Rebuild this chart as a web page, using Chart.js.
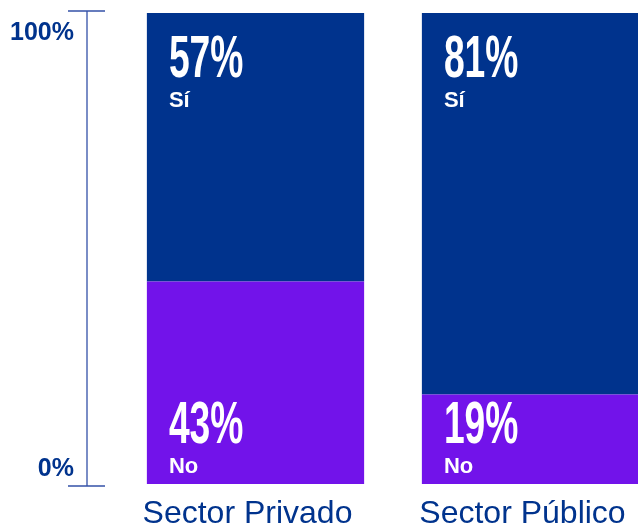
<!DOCTYPE html>
<html>
<head>
<meta charset="utf-8">
<script src="https://cdn.jsdelivr.net/npm/chart.js@4.4.1/dist/chart.umd.min.js"></script>
<style>
    html, body { margin: 0; padding: 0; background: #fff; overflow: hidden; }
    #wrap { width: 668px; height: 527px; }
</style>
</head>
<body>
<div id="wrap"><canvas id="myChart" width="668" height="527"></canvas></div>
<script>
// data
const categories = ['Sector Privado', 'Sector Público'];
const noValues = [43, 19];
const siValues = [57, 81];
const seriesNames = ['No', 'Sí'];
const axisTicks = [0, 100];

const navy = '#00338D';
const purple = '#7213EA';
const axisBlue = '#3451a8';

// axis on the left: vertical line, end ticks and the two labels
const sideAxis = {
    id: 'sideAxis',
    afterDraw(chart) {
        const c = chart.ctx;
        const y = chart.scales.y;
        const top = y.getPixelForValue(axisTicks[1]) - 2;
        const bottom = y.getPixelForValue(axisTicks[0]) + 2;
        const ax = 87;

        c.save();
        c.strokeStyle = axisBlue;
        c.lineWidth = 1.3;
        c.beginPath();
        c.moveTo(ax, top);
        c.lineTo(ax, bottom);
        c.moveTo(68, top);
        c.lineTo(105, top);
        c.moveTo(68, bottom);
        c.lineTo(105, bottom);
        c.stroke();

        c.fillStyle = navy;
        c.font = 'bold 25px "Liberation Sans", Arial, sans-serif';
        c.textAlign = 'right';
        c.textBaseline = 'alphabetic';
        c.fillText(axisTicks[1] + '%', 74, top + 29);
        c.fillText(axisTicks[0] + '%', 74, bottom - 10);
        c.restore();
    }
};

// big percentages + series names inside bars
const barText = {
    id: 'barText',
    afterDatasetsDraw(chart) {
        const c = chart.ctx;
        chart.data.datasets.forEach(function (ds, di) {
            const meta = chart.getDatasetMeta(di);
            meta.data.forEach(function (bar, i) {
                const p = bar.getProps(['x', 'y', 'base', 'width'], true);
                const left = p.x - p.width / 2 + 22;
                const top = Math.min(p.y, p.base);
                const bottom = Math.max(p.y, p.base);
                let bigBase, smallBase;
                if (ds.label === 'Sí') {
                    bigBase = top + 64;
                    smallBase = top + 94;
                } else {
                    bigBase = bottom - 41;
                    smallBase = bottom - 11;
                }
                c.save();
                c.fillStyle = '#ffffff';
                c.textAlign = 'left';
                c.textBaseline = 'alphabetic';
                c.translate(left, bigBase);
                c.scale(0.62, 1);
                c.font = 'bold 60px "Liberation Sans", Arial, sans-serif';
                c.fillText(ds.data[i] + '%', 0, 0);
                c.restore();

                c.save();
                c.fillStyle = '#ffffff';
                c.font = 'bold 22px "Liberation Sans", Arial, sans-serif';
                c.textAlign = 'left';
                c.fillText(ds.label, left, smallBase);
                c.restore();
            });
        });
    }
};

const ctx = document.getElementById('myChart');

let cfg = {
    type: 'bar',
    data: {
        labels: categories,
        datasets: [{
            label: seriesNames[0],
            data: noValues,
            backgroundColor: purple,
            borderWidth: 0
        }, {
            label: seriesNames[1],
            data: siValues,
            backgroundColor: navy,
            borderWidth: 0
        }]
    },
    options: {
        responsive: false,
        animation: false,
        devicePixelRatio: 1,
        barPercentage: 0.79,
        categoryPercentage: 1,
        layout: {
            padding: { top: 13, left: 118, right: 0, bottom: 0 }
        },
        plugins: {
            legend: { display: false },
            tooltip: { enabled: false }
        },
        scales: {
            x: {
                stacked: true,
                grid: { display: false, drawTicks: false },
                border: { display: false },
                afterFit: function (scale) { scale.height = 43; },
                ticks: {
                    color: navy,
                    padding: 11,
                    labelOffset: -8,
                    font: { family: '"Liberation Sans", Arial, sans-serif', size: 32 }
                }
            },
            y: {
                stacked: true,
                display: false,
                min: 0,
                max: 100
            }
        }
    },
    plugins: [sideAxis, barText]
};

let myChart = new Chart(ctx, cfg);
</script>
</body>
</html>
